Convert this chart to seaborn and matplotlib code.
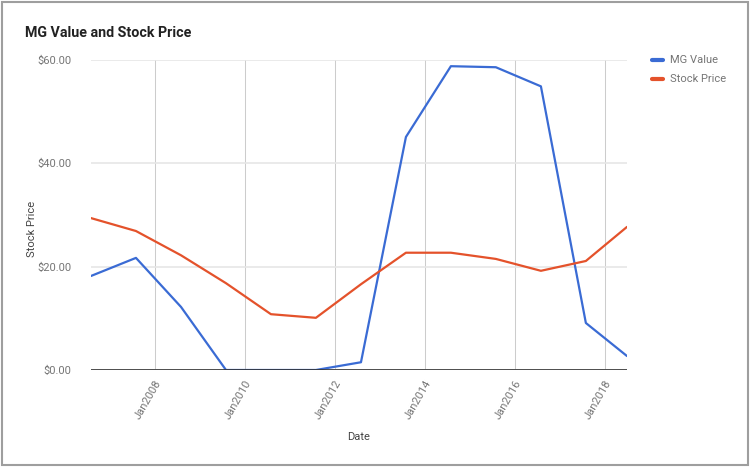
import matplotlib
matplotlib.use("Agg")
import matplotlib.pyplot as plt
import matplotlib.dates as mdates
from matplotlib.patches import Rectangle
from matplotlib.ticker import FuncFormatter, FixedLocator
import seaborn as sns
import pandas as pd

dates = ["2006-08-01", "2007-08-01", "2008-08-01", "2009-08-01", "2010-08-01",
         "2011-08-01", "2012-08-01", "2013-08-01", "2014-08-01", "2015-08-01",
         "2016-08-01", "2017-08-01", "2018-07-01"]
mg_value = [18.2, 21.7, 12.2, 0.0, 0.0, 0.0, 1.5, 45.1, 58.8, 58.6, 54.9, 9.1, 2.7]
stock_price = [29.4, 26.9, 22.2, 16.8, 10.8, 10.1, 16.6, 22.7, 22.7, 21.5, 19.2, 21.1, 27.7]
series_names = ["MG Value", "Stock Price"]
colors = ["#3a6bd4", "#e4522b"]
tick_years = [2008, 2010, 2012, 2014, 2016, 2018]

df = pd.DataFrame({
    "Date": pd.to_datetime(dates * 2),
    "value": mg_value + stock_price,
    "series": [series_names[0]] * len(dates) + [series_names[1]] * len(dates),
})

sns.set_style("white")
plt.rcParams["font.family"] = ["Roboto", "DejaVu Sans"]

fig = plt.figure(figsize=(7.52, 4.69), dpi=100)
ax = fig.add_axes([91 / 752, 1 - 370 / 469, (627 - 91) / 752, (370 - 60) / 469])

sns.lineplot(data=df, x="Date", y="value", hue="series", palette=colors,
             linewidth=1.6, ax=ax, legend=False)

ax.set_xlim(pd.Timestamp("2006-08-01"), pd.Timestamp("2018-07-01"))
ax.set_ylim(0, 60)
ax.set_yticks([0, 20, 40, 60])
ax.yaxis.set_major_formatter(FuncFormatter(lambda v, p: f"${v:.2f}"))
ticks = [mdates.date2num(pd.Timestamp(f"{y}-01-01")) for y in tick_years]
ax.xaxis.set_major_locator(FixedLocator(ticks))
ax.set_xticklabels([f"Jan{y}" for y in tick_years], rotation=60, ha="right",
                   rotation_mode="anchor")

ax.grid(True, axis="y", color="#e6e6e6", linewidth=1.2)
ax.grid(True, axis="x", color="#cccccc", linewidth=0.75)
ax.axhline(0, color="#333333", linewidth=1.2, zorder=3)
for s in ax.spines.values():
    s.set_visible(False)
ax.tick_params(axis="both", length=0, labelsize=8, labelcolor="#757575")
ax.tick_params(axis="y", pad=14)
ax.tick_params(axis="x", pad=6)
ax.set_xlabel("Date", fontsize=8, color="#444444", labelpad=8)
ax.set_ylabel("Stock Price", fontsize=8, color="#444444")
ax.yaxis.set_label_coords((37 - 91) / 536, (370 - 229) / 310)

fig.text(25 / 752, 1 - 33 / 469, "MG Value and Stock Price", fontsize=10.3,
         fontweight="bold", color="#222222", va="center", ha="left")

# legend
for i, (name, c) in enumerate(zip(series_names, colors)):
    y = 1 - (60 + 19 * i) / 469
    fig.add_artist(plt.Line2D([652 / 752, 663 / 752], [y, y], color=c,
                              linewidth=3, transform=fig.transFigure))
    fig.text(670 / 752, y, name, fontsize=8, color="#757575", va="center", ha="left")

fig.add_artist(Rectangle((2 / 752, 1 - 465 / 469), 746 / 752, 463 / 469,
                         transform=fig.transFigure, fill=False,
                         edgecolor="#9e9e9e", linewidth=1.5))

fig.savefig("out.png", dpi=100)
